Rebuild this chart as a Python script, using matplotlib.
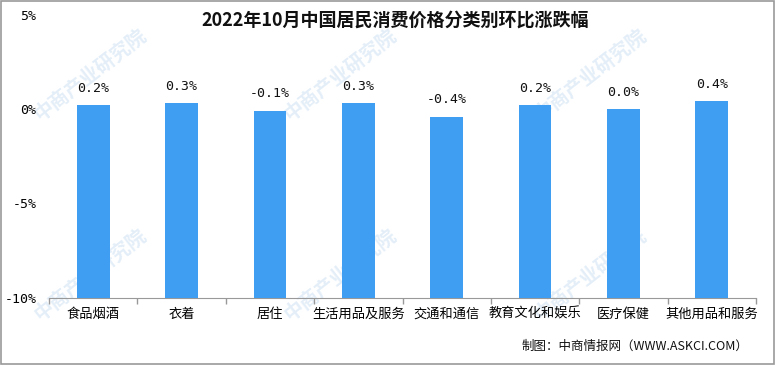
import matplotlib
matplotlib.use("Agg")
import matplotlib.pyplot as plt
import numpy as np

plt.rcParams['font.family'] = ['Noto Sans CJK SC', 'DejaVu Sans']

# --- data ---
categories = ['食品烟酒', '衣着', '居住', '生活用品及服务', '交通和通信', '教育文化和娱乐', '医疗保健', '其他用品和服务']
values = [0.2, 0.3, -0.1, 0.3, -0.4, 0.2, 0.0, 0.4]
value_labels = ['0.2%', '0.3%', '-0.1%', '0.3%', '-0.4%', '0.2%', '0.0%', '0.4%']
y_ticks = [5, 0, -5, -10]
y_tick_labels = ['5%', '0%', '-5%', '-10%']
y_min, y_max = -10, 5

title = '2022年10月中国居民消费价格分类别环比涨跌幅'
source = '制图：中商情报网（WWW.ASKCI.COM）'
watermark = '中商产业研究院'

fig = plt.figure(figsize=(7.76, 3.65), dpi=100)
fig.patch.set_facecolor('white')

# background layer for the faint watermark, kept behind the chart
bg = fig.add_axes([0, 0, 1, 1], zorder=-5)
bg.set_axis_off()
bg.set_xlim(0, 776)
bg.set_ylim(365, 0)
for cx in [90, 340, 590]:
    for cy in [75, 275]:
        bg.text(cx, cy, watermark, fontsize=14, color='#e3eef8', rotation=38,
                ha='center', va='center', fontweight='bold')

ax = fig.add_axes([49 / 776, 1 - 298 / 365, (756 - 49) / 776, (298 - 14.5) / 365])
ax.set_facecolor('none')

x = np.arange(len(categories))
heights = np.array(values) - y_min
ax.bar(x, heights, bottom=y_min, width=0.37, color='#409ef2', zorder=3)

for xi, v, lab in zip(x, values, value_labels):
    ax.text(xi, v + 0.55, lab, ha='center', va='bottom', fontsize=9.5,
            family=['DejaVu Sans Mono'], color='#111111')

ax.set_xlim(-0.5, len(categories) - 0.5)
ax.set_ylim(y_min, y_max)

ax.set_yticks(y_ticks)
ax.set_yticklabels(y_tick_labels, fontsize=9.5, family=['DejaVu Sans Mono'])
ax.tick_params(axis='y', length=0, pad=9)

ax.set_xticks(x)
ax.set_xticklabels(categories, fontsize=9.5)
ax.tick_params(axis='x', which='major', length=0, pad=7)
ax.set_xticks(np.arange(len(categories) + 1) - 0.5, minor=True)
ax.tick_params(axis='x', which='minor', length=4, color='#999999', width=1)

for s in ['top', 'right', 'left']:
    ax.spines[s].set_visible(False)
ax.spines['bottom'].set_color('#999999')

fig.text(395 / 776, 1 - 20 / 365, title, ha='center', va='center', fontsize=13,
         fontweight='bold', color='#111111')
fig.text(748 / 776, 1 - 346 / 365, source, ha='right', va='center', fontsize=9,
         color='#111111')

# outer frame
fig.add_artist(plt.Rectangle((0.001, 0.002), 0.997, 0.995, transform=fig.transFigure,
                             fill=False, edgecolor='#999999', linewidth=1.2))

fig.savefig('out.png', dpi=100, facecolor='white')
